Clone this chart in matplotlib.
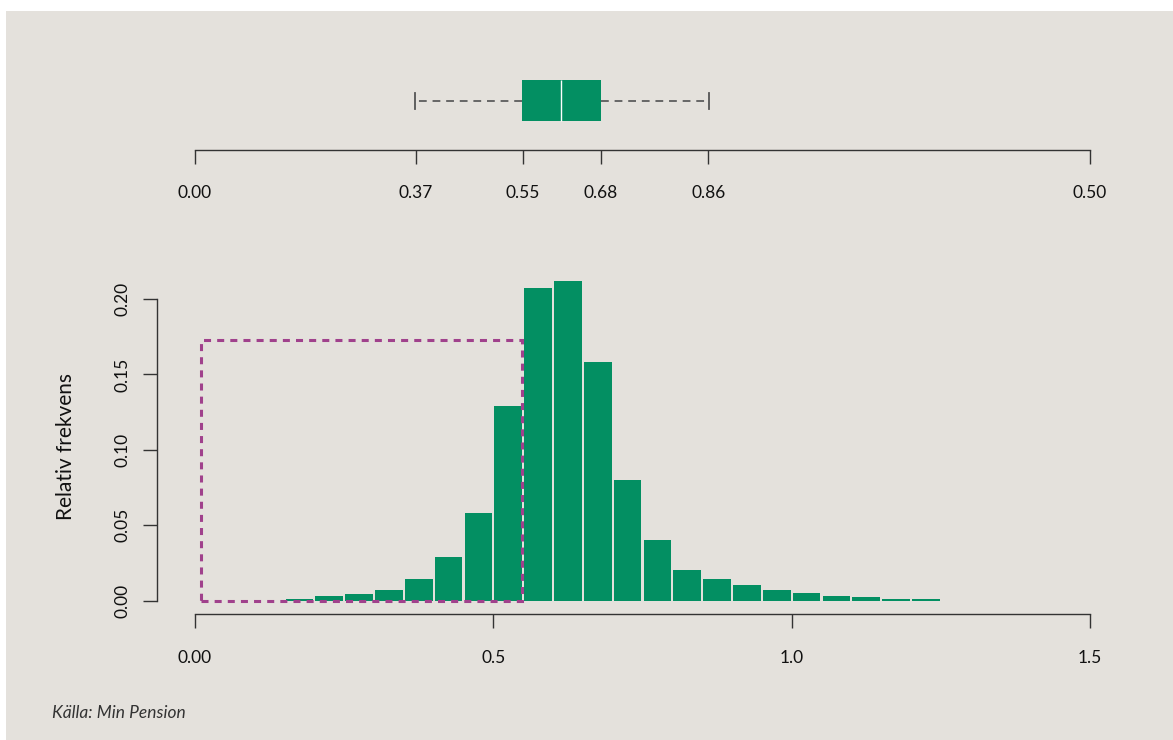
import numpy as np
import matplotlib.pyplot as plt
from matplotlib.patches import Rectangle

plt.rcParams['font.family'] = ['Lato', 'DejaVu Sans']

# histogram: relative frequency per bin (bin width 0.05)
bin_left = np.round(np.arange(0.15, 1.25, 0.05), 2)
rel_freq = [0.0013, 0.003, 0.0045, 0.007, 0.014, 0.029, 0.058, 0.129,
            0.207, 0.212, 0.158, 0.0797, 0.040, 0.0205, 0.014, 0.0105,
            0.007, 0.0053, 0.0033, 0.002, 0.0013, 0.0013]
bin_width = 0.05

# boxplot summary
box_q1, box_med, box_q3 = 0.548, 0.613, 0.68
whisk_lo, whisk_hi = 0.368, 0.861
box_ticks = [0.0, 0.37, 0.55, 0.68, 0.86, 1.5]
box_ticklabels = ["0.00", "0.37", "0.55", "0.68", "0.86", "0.50"]

# highlighted low range
low_range = (0.01, 0.548)
low_range_top = 0.173

hist_ticks = [0.0, 0.5, 1.0, 1.5]
hist_ticklabels = ["0.00", "0.5", "1.0", "1.5"]
y_ticks = [0.0, 0.05, 0.10, 0.15, 0.20]

BG = "#e4e1dc"
GREEN = "#038f62"
PURPLE = "#a0418c"
INK = "#333333"

W, H = 1173, 740
fig = plt.figure(figsize=(W / 100, H / 100), dpi=100, facecolor="white")
fig.patches.append(Rectangle((6 / W, 0), 1, (H - 11) / H, transform=fig.transFigure,
                             facecolor=BG, edgecolor="none", zorder=-10))

# x scale shared: 0 -> px 195, 1.5 -> px 1090
ppu = (1090 - 195) / 1.5
xlim = (-(195 - 157) / ppu, (1100 - 195) / ppu)


def style_axis(ax):
    ax.set_facecolor("none")
    for s in ["top", "right"]:
        ax.spines[s].set_visible(False)
    for s in ["left", "bottom"]:
        ax.spines[s].set_color(INK)
        ax.spines[s].set_linewidth(1.0)
    ax.tick_params(colors=INK, labelcolor="#111111", length=10, width=1.0,
                   labelsize=12.5)


# ---- top: boxplot ----
axb = fig.add_axes([157 / W, (H - 150) / H, (1100 - 157) / W, 90 / H])
style_axis(axb)
axb.spines["left"].set_visible(False)
stats = [dict(med=box_med, q1=box_q1, q3=box_q3, whislo=whisk_lo,
              whishi=whisk_hi, fliers=[])]
axb.bxp(stats, positions=[0.55], widths=[41 / 90], capwidths=[16 / 90],
        orientation="horizontal", patch_artist=True, showfliers=False,
        boxprops=dict(facecolor=GREEN, edgecolor="none"),
        medianprops=dict(color="white", linewidth=1.0),
        whiskerprops=dict(color="#666666", linewidth=1.4, linestyle=(0, (4, 3))),
        capprops=dict(color="#555555", linewidth=1.3))
axb.set_xlim(xlim)
axb.set_ylim(0, 1)
axb.set_yticks([])
axb.spines["bottom"].set_bounds(0, 1.5)
axb.set_xticks(box_ticks)
axb.set_xticklabels(box_ticklabels)
axb.tick_params(axis="x", pad=15)

# ---- bottom: histogram ----
ax = fig.add_axes([157 / W, (H - 614) / H, (1100 - 157) / W, (614 - 280) / H])
style_axis(ax)
ax.bar(bin_left + bin_width / 2, rel_freq, width=bin_width * 0.93,
       color=GREEN, edgecolor="none", zorder=2)
ax.add_patch(Rectangle((low_range[0], 0), low_range[1] - low_range[0], low_range_top,
                       fill=False, edgecolor=PURPLE, linewidth=2.2,
                       linestyle=(0, (2.3, 2.0)), zorder=3))
yppu = (600.5 - 299) / 0.20
ax.set_xlim(xlim)
ax.set_ylim(-(614 - 600.5) / yppu, (600.5 - 280) / yppu)
ax.spines["bottom"].set_bounds(0, 1.5)
ax.spines["left"].set_bounds(0, 0.20)
ax.set_xticks(hist_ticks)
ax.set_xticklabels(hist_ticklabels)
ax.set_yticks(y_ticks)
ax.set_yticklabels([f"{v:.2f}" for v in y_ticks], rotation=90, va="center")
ax.tick_params(axis="x", pad=16)
ax.tick_params(axis="y", pad=9)
ax.set_ylabel("Relativ frekvens", fontsize=15, color="#111111", labelpad=28)

fig.text(52 / W, 1 - 713 / H, "Källa: Min Pension", fontsize=12.5, style="italic",
         color=INK, va="center", ha="left")

fig.savefig("out.png", dpi=100, facecolor="white")
